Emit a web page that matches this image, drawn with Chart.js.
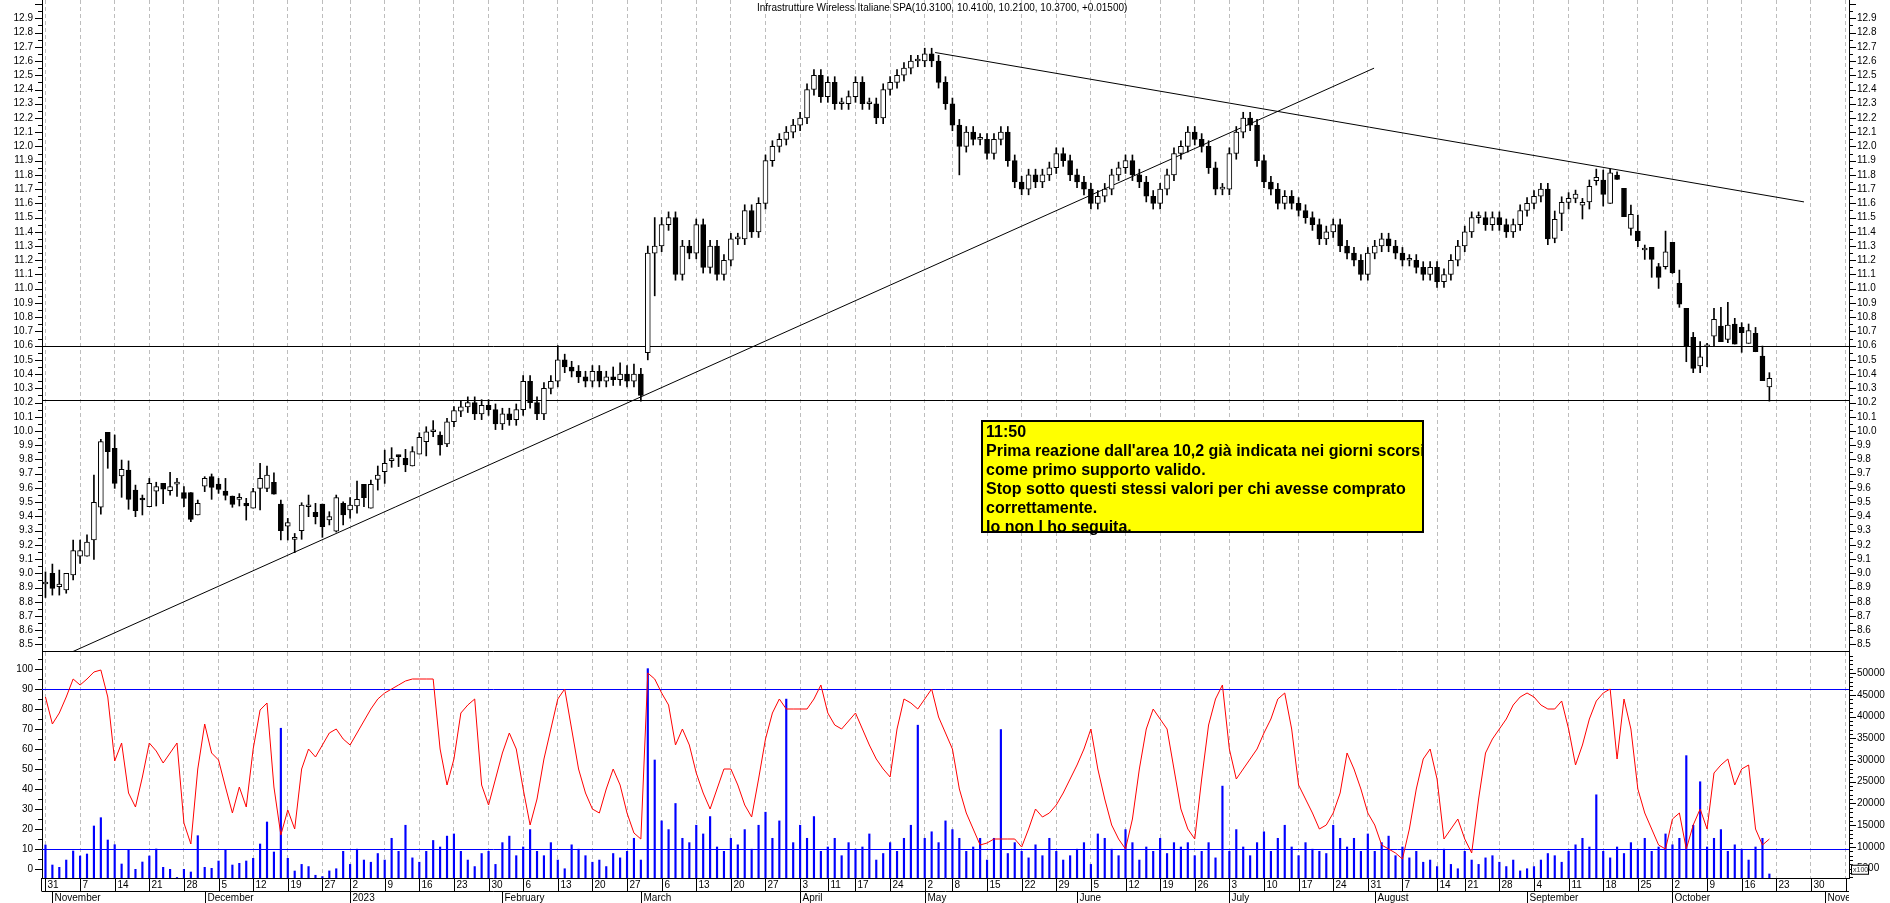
<!DOCTYPE html>
<html>
<head>
<meta charset="utf-8">
<title>Infrastrutture Wireless Italiane SPA</title>
<script src="https://cdn.jsdelivr.net/npm/chart.js@4.4.1/dist/chart.umd.min.js"></script>
<style>
  body { margin: 0; background: #fff; }
  #page { position: relative; width: 1890px; height: 903px; overflow: hidden; font-family: 'Liberation Sans', Arial, sans-serif; }
  canvas { position: absolute; left: 0; }
  #topChart { top: 0; }
  #botChart { top: 652px; }
  #title { position: absolute; top: 2px; left: 757px; font-size: 10px; white-space: nowrap; color: #000; }
  #note { position: absolute; left: 981px; top: 420px; width: 436px; height: 109px; padding-left: 3px;
          border: 2px solid #000; background: #ffff00; font-weight: bold; font-size: 16px; line-height: 19px; white-space: nowrap; }
</style>
</head>
<body>
<div id="page">
  <canvas id="topChart" width="1890" height="652"></canvas>
  <canvas id="botChart" width="1890" height="251"></canvas>
  <div id="title">Infrastrutture Wireless Italiane SPA(10.3100, 10.4100, 10.2100, 10.3700, +0.01500)</div>
  <div id="note">11:50<br>Prima reazione dall'area 10,2 già indicata nei giorni scorsi<br>come primo supporto valido.<br>Stop sotto questi stessi valori per chi avesse comprato<br>correttamente.<br>Io non l ho seguita.</div>
</div>
<script>
// trading calendar (Borsa Italiana), axis runs one week past the last candle
const firstDay = '2022-10-31';
const lastDay = '2023-11-06';
const holidays = ['2022-12-26', '2023-04-07', '2023-04-10', '2023-05-01', '2023-08-15'];
const monthNames = ['January', 'February', 'March', 'April', 'May', 'June', 'July',
  'August', 'September', 'October', 'November', 'December'];

const priceTicks = [8.5, 8.6, 8.7, 8.8, 8.9, 9.0, 9.1, 9.2, 9.3, 9.4, 9.5, 9.6, 9.7, 9.8, 9.9,
  10.0, 10.1, 10.2, 10.3, 10.4, 10.5, 10.6, 10.7, 10.8, 10.9, 11.0, 11.1, 11.2, 11.3, 11.4, 11.5,
  11.6, 11.7, 11.8, 11.9, 12.0, 12.1, 12.2, 12.3, 12.4, 12.5, 12.6, 12.7, 12.8, 12.9];
const oscTicks = [0, 10, 20, 30, 40, 50, 60, 70, 80, 90, 100];
const volTicks = [5000, 10000, 15000, 20000, 25000, 30000, 35000, 40000, 45000, 50000];

// daily candles, 31 Oct 2022 .. 20 Oct 2023
const open = [
  8.925, 9.00, 8.906, 8.883, 8.988, 9.12, 9.12, 9.234, 9.464, 9.99,
  9.878, 9.684, 9.726, 9.585, 9.52, 9.468, 9.578, 9.632, 9.58, 9.627,
  9.567, 9.567, 9.41, 9.613, 9.679, 9.627, 9.578, 9.543, 9.52, 9.492,
  9.457, 9.597, 9.597, 9.64, 9.487, 9.332, 9.239, 9.30, 9.468, 9.429,
  9.487, 9.375, 9.297, 9.492, 9.445, 9.473, 9.625, 9.457, 9.66, 9.714,
  9.792, 9.83, 9.808, 9.754, 9.838, 9.925, 9.995, 9.972, 9.909, 10.065,
  10.14, 10.17, 10.20, 10.12, 10.18, 10.15, 10.05, 10.12, 10.08, 10.15,
  10.35, 10.20, 10.12, 10.30, 10.35, 10.50, 10.45, 10.42, 10.38, 10.35,
  10.42, 10.35, 10.38, 10.36, 10.40, 10.35, 10.40, 10.55, 11.25, 11.30,
  11.45, 11.50, 11.10, 11.30, 11.25, 11.45, 11.15, 11.30, 11.10, 11.20,
  11.35, 11.35, 11.55, 11.40, 11.60, 11.90, 12.00, 12.05, 12.10, 12.15,
  12.20, 12.40, 12.50, 12.35, 12.45, 12.30, 12.30, 12.35, 12.45, 12.30,
  12.30, 12.20, 12.40, 12.45, 12.50, 12.55, 12.60, 12.60, 12.65, 12.60,
  12.45, 12.30, 12.15, 12.00, 12.10, 12.05, 12.05, 11.95, 12.05, 12.10,
  11.90, 11.75, 11.70, 11.80, 11.75, 11.80, 11.85, 11.95, 11.90, 11.80,
  11.75, 11.70, 11.60, 11.65, 11.70, 11.80, 11.85, 11.90, 11.80, 11.75,
  11.65, 11.60, 11.70, 11.80, 11.95, 12.00, 12.10, 12.05, 12.00, 11.85,
  11.70, 11.70, 11.95, 12.10, 12.20, 12.15, 11.90, 11.75, 11.70, 11.60,
  11.65, 11.60, 11.55, 11.50, 11.45, 11.35, 11.40, 11.45, 11.30, 11.25,
  11.20, 11.10, 11.25, 11.30, 11.35, 11.30, 11.25, 11.20, 11.20, 11.15,
  11.10, 11.15, 11.05, 11.10, 11.20, 11.30, 11.40, 11.50, 11.50, 11.45,
  11.50, 11.45, 11.40, 11.45, 11.55, 11.60, 11.65, 11.70, 11.354, 11.529,
  11.607, 11.635, 11.588, 11.61, 11.76, 11.764, 11.60, 11.799, 11.705, 11.424,
  11.405, 11.272, 11.29, 11.155, 11.155, 11.326, 11.038, 10.862, 10.658, 10.457,
  10.592, 10.667, 10.738, 10.644, 10.752, 10.728, 10.616, 10.686, 10.527, 10.31
];
const high = [
  9.01, 9.065, 9.023, 9.00, 9.234, 9.234, 9.27, 9.691, 9.941, 9.99,
  9.972, 9.796, 9.79, 9.62, 9.55, 9.667, 9.64, 9.632, 9.71, 9.667,
  9.609, 9.567, 9.515, 9.679, 9.698, 9.667, 9.667, 9.543, 9.56, 9.527,
  9.597, 9.773, 9.754, 9.707, 9.515, 9.386, 9.28, 9.496, 9.55, 9.492,
  9.487, 9.433, 9.55, 9.503, 9.532, 9.649, 9.625, 9.656, 9.754, 9.866,
  9.883, 9.83, 9.871, 9.89, 9.988, 10.03, 10.073, 9.995, 10.09, 10.171,
  10.21, 10.24, 10.24, 10.22, 10.22, 10.19, 10.16, 10.16, 10.19, 10.39,
  10.39, 10.24, 10.34, 10.39, 10.60, 10.54, 10.49, 10.46, 10.42, 10.46,
  10.46, 10.42, 10.45, 10.48, 10.46, 10.47, 10.44, 11.30, 11.50, 11.50,
  11.54, 11.54, 11.34, 11.34, 11.49, 11.49, 11.34, 11.34, 11.24, 11.39,
  11.39, 11.59, 11.59, 11.64, 11.94, 12.04, 12.09, 12.14, 12.19, 12.24,
  12.44, 12.54, 12.54, 12.49, 12.49, 12.34, 12.39, 12.49, 12.49, 12.34,
  12.34, 12.44, 12.49, 12.54, 12.59, 12.64, 12.64, 12.69, 12.69, 12.64,
  12.49, 12.34, 12.19, 12.14, 12.14, 12.09, 12.09, 12.09, 12.14, 12.14,
  11.94, 11.79, 11.84, 11.84, 11.84, 11.89, 11.99, 11.99, 11.94, 11.84,
  11.79, 11.74, 11.69, 11.74, 11.84, 11.89, 11.94, 11.94, 11.84, 11.79,
  11.69, 11.74, 11.84, 11.99, 12.04, 12.14, 12.14, 12.09, 12.04, 11.89,
  11.74, 11.99, 12.14, 12.24, 12.24, 12.19, 11.94, 11.79, 11.74, 11.69,
  11.69, 11.64, 11.59, 11.54, 11.49, 11.44, 11.49, 11.49, 11.34, 11.29,
  11.24, 11.29, 11.34, 11.39, 11.39, 11.34, 11.29, 11.24, 11.24, 11.19,
  11.19, 11.19, 11.14, 11.24, 11.34, 11.44, 11.54, 11.54, 11.54, 11.54,
  11.54, 11.49, 11.49, 11.59, 11.64, 11.69, 11.74, 11.74, 11.546, 11.646,
  11.675, 11.693, 11.635, 11.764, 11.841, 11.834, 11.841, 11.822, 11.705, 11.588,
  11.518, 11.307, 11.29, 11.178, 11.405, 11.326, 11.131, 10.862, 10.693, 10.628,
  10.616, 10.862, 10.869, 10.904, 10.792, 10.761, 10.752, 10.728, 10.597, 10.41
];
const low = [
  8.83, 8.847, 8.847, 8.86, 8.953, 9.07, 9.12, 9.098, 9.415, 9.738,
  9.597, 9.534, 9.45, 9.398, 9.41, 9.468, 9.473, 9.49, 9.55, 9.54,
  9.468, 9.363, 9.41, 9.574, 9.52, 9.562, 9.515, 9.464, 9.473, 9.374,
  9.457, 9.445, 9.574, 9.557, 9.234, 9.234, 9.145, 9.239, 9.398, 9.347,
  9.253, 9.34, 9.29, 9.34, 9.387, 9.422, 9.468, 9.457, 9.585, 9.632,
  9.745, 9.75, 9.714, 9.754, 9.838, 9.825, 9.96, 9.831, 9.89, 10.03,
  10.10, 10.13, 10.08, 10.08, 10.11, 10.01, 10.01, 10.04, 10.04, 10.11,
  10.16, 10.08, 10.08, 10.26, 10.31, 10.41, 10.38, 10.34, 10.31, 10.31,
  10.31, 10.31, 10.32, 10.32, 10.31, 10.31, 10.21, 10.50, 10.95, 11.26,
  11.41, 11.06, 11.06, 11.21, 11.21, 11.11, 11.11, 11.06, 11.06, 11.16,
  11.31, 11.31, 11.36, 11.36, 11.56, 11.86, 11.96, 12.01, 12.06, 12.11,
  12.16, 12.36, 12.31, 12.31, 12.26, 12.26, 12.26, 12.31, 12.26, 12.26,
  12.16, 12.16, 12.36, 12.41, 12.46, 12.51, 12.56, 12.56, 12.56, 12.41,
  12.26, 12.11, 11.80, 11.96, 12.01, 12.01, 11.91, 11.91, 12.01, 11.86,
  11.71, 11.66, 11.66, 11.71, 11.71, 11.76, 11.81, 11.86, 11.76, 11.71,
  11.66, 11.56, 11.56, 11.61, 11.66, 11.76, 11.81, 11.76, 11.71, 11.61,
  11.56, 11.56, 11.66, 11.76, 11.91, 11.96, 12.01, 11.96, 11.81, 11.66,
  11.66, 11.66, 11.91, 12.06, 12.11, 11.86, 11.71, 11.66, 11.56, 11.56,
  11.56, 11.51, 11.46, 11.41, 11.31, 11.31, 11.36, 11.26, 11.21, 11.16,
  11.06, 11.06, 11.21, 11.26, 11.26, 11.21, 11.16, 11.16, 11.11, 11.06,
  11.06, 11.01, 11.01, 11.06, 11.16, 11.26, 11.36, 11.46, 11.41, 11.41,
  11.41, 11.36, 11.36, 11.41, 11.51, 11.56, 11.61, 11.31, 11.323, 11.408,
  11.56, 11.604, 11.49, 11.56, 11.728, 11.581, 11.60, 11.768, 11.506, 11.377,
  11.295, 11.206, 11.08, 11.002, 11.138, 11.108, 10.869, 10.487, 10.41, 10.41,
  10.452, 10.592, 10.628, 10.62, 10.611, 10.553, 10.616, 10.557, 10.354, 10.21
];
const close = [
  8.93, 8.894, 8.925, 9.00, 9.159, 9.159, 9.22, 9.499, 9.925, 9.855,
  9.632, 9.731, 9.52, 9.44, 9.515, 9.632, 9.609, 9.592, 9.609, 9.627,
  9.527, 9.379, 9.492, 9.667, 9.604, 9.59, 9.548, 9.485, 9.522, 9.473,
  9.574, 9.667, 9.691, 9.557, 9.30, 9.356, 9.239, 9.48, 9.468, 9.398,
  9.328, 9.398, 9.532, 9.41, 9.48, 9.52, 9.532, 9.625, 9.69, 9.773,
  9.792, 9.82, 9.761, 9.855, 9.955, 9.995, 9.995, 9.902, 10.065, 10.143,
  10.17, 10.20, 10.12, 10.18, 10.15, 10.05, 10.12, 10.08, 10.15, 10.35,
  10.20, 10.12, 10.30, 10.35, 10.50, 10.45, 10.42, 10.38, 10.35, 10.42,
  10.35, 10.38, 10.36, 10.40, 10.35, 10.40, 10.25, 11.25, 11.30, 11.45,
  11.50, 11.10, 11.30, 11.25, 11.45, 11.15, 11.30, 11.10, 11.20, 11.35,
  11.35, 11.55, 11.40, 11.60, 11.90, 12.00, 12.05, 12.10, 12.15, 12.20,
  12.40, 12.50, 12.35, 12.45, 12.30, 12.30, 12.35, 12.45, 12.30, 12.30,
  12.20, 12.40, 12.45, 12.50, 12.55, 12.60, 12.60, 12.65, 12.60, 12.45,
  12.30, 12.15, 12.00, 12.10, 12.05, 12.05, 11.95, 12.05, 12.10, 11.90,
  11.75, 11.70, 11.80, 11.75, 11.80, 11.85, 11.95, 11.90, 11.80, 11.75,
  11.70, 11.60, 11.65, 11.70, 11.80, 11.85, 11.90, 11.80, 11.75, 11.65,
  11.60, 11.70, 11.80, 11.95, 12.00, 12.10, 12.05, 12.00, 11.85, 11.70,
  11.70, 11.95, 12.10, 12.20, 12.15, 11.90, 11.75, 11.70, 11.60, 11.65,
  11.60, 11.55, 11.50, 11.45, 11.35, 11.40, 11.45, 11.30, 11.25, 11.20,
  11.10, 11.25, 11.30, 11.35, 11.30, 11.25, 11.20, 11.20, 11.15, 11.10,
  11.15, 11.05, 11.10, 11.20, 11.30, 11.40, 11.50, 11.50, 11.45, 11.50,
  11.45, 11.40, 11.45, 11.55, 11.60, 11.65, 11.70, 11.35, 11.487, 11.607,
  11.635, 11.665, 11.607, 11.72, 11.782, 11.663, 11.815, 11.768, 11.506, 11.522,
  11.337, 11.272, 11.206, 11.08, 11.26, 11.112, 10.892, 10.592, 10.44, 10.522,
  10.592, 10.785, 10.628, 10.745, 10.611, 10.691, 10.705, 10.557, 10.354, 10.37
];
// lower panel: oscillator (left scale) and volume in hundreds (right scale)
const stoch = [
  86, 72.5, 78, 86, 95, 92, 95, 98.5, 99.5, 86,
  54, 63, 38, 31, 46, 63, 59, 53, 58, 63,
  23, 12.5, 50, 72.5, 58, 54.5, 41, 28, 41, 31,
  60, 79.5, 83, 41, 17, 29.5, 20, 50, 60, 56,
  62, 68, 70, 65, 62, 68, 74, 80, 85, 88,
  90, 92, 94, 95, 95, 95, 95, 60, 42, 55,
  78, 82, 85, 42, 32, 45, 58, 68, 60, 40,
  22, 35, 55, 70, 85, 90, 70, 50, 38, 30,
  28, 40, 50, 42, 28, 18, 15, 98, 95, 88,
  82, 62, 70, 62, 48, 38, 30, 40, 50, 50,
  42, 32, 26, 45, 65, 78, 85, 80, 80, 80,
  80, 85, 92, 78, 72, 70, 74, 78, 70, 62,
  55, 50, 46, 70, 85, 83, 80, 85, 90, 76,
  68, 60, 40, 28, 20, 12, 13, 15, 15, 15,
  15, 11, 20, 30, 26, 28, 32, 38, 45, 52,
  60, 70, 50, 35, 22, 15, 10, 25, 50, 70,
  80, 75, 70, 50, 30, 20, 15, 45, 72, 85,
  92, 60, 45, 50, 55, 60, 68, 75, 85, 88,
  70, 42, 35, 28, 20, 22, 28, 38, 58, 50,
  40, 28, 22, 12, 10, 8, 5, 20, 40, 55,
  60, 45, 15, 20, 25, 15, 8, 35, 58, 65,
  70, 75, 82, 86, 88, 86, 82, 80, 80, 84,
  70, 52, 62, 75, 84, 88, 90, 55, 85, 70,
  40, 28, 20, 12, 10, 25, 28, 10, 22, 30,
  20, 48, 52, 55, 42, 50, 52, 20, 12, 15
];
const volume = [
  10460, 5860, 5330, 7000, 9080, 7930, 8390, 14830, 16740, 11610,
  10530, 6090, 9310, 4870, 6550, 7930, 9540, 5330, 4870, 3000,
  4870, 4250, 12600, 5330, 5100, 6780, 9310, 5860, 6250, 6780,
  7400, 10690, 15750, 8850, 37300, 7400, 4480, 6000, 5500, 3500,
  3200, 4500, 5000, 9000, 6000, 9500, 7000, 6500, 8500, 7000,
  12000, 9000, 15000, 7500, 6500, 9000, 11500, 10000, 12500, 13000,
  9000, 7000, 5500, 8500, 9000, 6000, 11000, 12500, 8000, 10000,
  14000, 9000, 8000, 11000, 7000, 5000, 10500, 9500, 8000, 6500,
  7000, 5500, 8500, 7500, 9000, 12000, 7000, 51000, 30000, 16000,
  14000, 20000, 12000, 11000, 15000, 13000, 17000, 10000, 9000, 12000,
  10500, 14000, 9500, 15000, 18000, 12000, 16000, 44000, 11000, 15000,
  12000, 17000, 9000, 10000, 12000, 8000, 11000, 9500, 10000, 13000,
  7000, 8500, 11000, 9000, 12000, 15000, 38000, 12000, 13500, 11000,
  16000, 14000, 12000, 9000, 10000, 12000, 7000, 12000, 37000, 8500,
  11000, 9000, 7500, 10500, 8000, 12000, 9000, 7000, 8000, 9500,
  11000, 6000, 13000, 12000, 9500, 8000, 14000, 11000, 7000, 10000,
  9000, 12000, 8500, 11000, 10000, 11000, 8000, 9000, 11000, 7500,
  24000, 9000, 14000, 10000, 8000, 11000, 13500, 9000, 12000, 15000,
  10000, 8000, 11000, 9500, 9000, 8500, 15000, 12000, 10000, 12000,
  9000, 13000, 9000, 11000, 12500, 8000, 10000, 7500, 9000, 6500,
  7000, 5500, 9500, 6000, 5000, 9000, 7000, 6000, 7500, 8000,
  6500, 5500, 7000, 4500, 5000, 5500, 7000, 8500, 8000, 6500,
  9000, 10500, 12000, 10000, 22000, 9000, 7500, 10000, 8500, 11000,
  9500, 12000, 9000, 10000, 13000, 10500, 12000, 31000, 15000, 25000,
  10000, 12000, 14000, 9000, 10500, 9500, 7000, 10000, 12000, 3800
];
// drawn levels and trend lines: [startIndex, startPrice, endIndex, endPrice]
const levels = [10.6, 10.22];
const trendLines = [[3.5, 8.44, 191.9, 12.55], [128.5, 12.66, 254, 11.61]];
const oscLevels = [90, 10];

// category labels
const days = [];
for (let t = Date.parse(firstDay); t <= Date.parse(lastDay); t += 864e5) {
  const d = new Date(t);
  const iso = d.toISOString().slice(0, 10);
  if (d.getUTCDay() > 0 && d.getUTCDay() < 6 && !holidays.includes(iso)) days.push(iso);
}
const dt = days.map(s => new Date(s));
const weekStart = dt.map((d, i) => i === 0 || d.getUTCDay() <= dt[i - 1].getUTCDay());
const monthStart = dt.map((d, i) => i > 0 && d.getUTCMonth() !== dt[i - 1].getUTCMonth());

Chart.defaults.font.family = "'Liberation Sans', Arial, sans-serif";
Chart.defaults.font.size = 10;
Chart.defaults.color = '#000';

const FONT = "10px 'Liberation Sans', Arial, sans-serif";

function xAxis() {
  return {
    type: 'category', offset: true,
    ticks: { display: false, autoSkip: false },
    grid: { offset: false, drawTicks: false, lineWidth: 1,
      color: c => weekStart[c.index] ? '#bdbdbd' : 'rgba(0,0,0,0)' },
    border: { display: false, dash: [4, 3] },
    afterFit: s => { s.height = 0; s.paddingLeft = 0; s.paddingRight = 0; }
  };
}
function yAxis(pos, min, max, ticks, fmt) {
  return {
    type: 'linear', position: pos, min: min, max: max,
    afterBuildTicks: s => { s.ticks = ticks.map(v => ({ value: v })); },
    ticks: { autoSkip: false, padding: pos === 'left' ? 9 : 8, callback: fmt },
    grid: { drawOnChartArea: false, drawTicks: false },
    border: { display: true, color: '#000' },
    afterFit: s => { s.width = pos === 'left' ? 42 : 41; s.paddingTop = 0; s.paddingBottom = 0; }
  };
}
// minor and major tick marks on the value axes
function tickMarks(chart, id, minor, major, side) {
  const s = chart.scales[id], ctx = chart.ctx;
  const x0 = side === 'left' ? s.right : s.left;
  const dir = side === 'left' ? -1 : 1;
  ctx.save();
  ctx.strokeStyle = '#000';
  ctx.lineWidth = 1;
  ctx.beginPath();
  for (let n = Math.ceil(s.min / minor - 1e-9); n <= Math.floor(s.max / minor + 1e-9); n++) {
    const v = n * minor;
    const big = Math.abs(v / major - Math.round(v / major)) < 1e-6;
    const py = Math.round(s.getPixelForValue(v)) + 0.5;
    ctx.moveTo(x0, py);
    ctx.lineTo(x0 + dir * (big ? 7 : 4), py);
  }
  ctx.stroke();
  ctx.restore();
}

const topDeco = {
  id: 'topDeco',
  beforeDatasetsDraw(chart) {
    const { ctx, chartArea: a, scales: { x, y } } = chart;
    ctx.save();
    ctx.beginPath();
    ctx.rect(a.left, a.top, a.right - a.left, a.bottom - a.top);
    ctx.clip();
    ctx.strokeStyle = '#000';
    ctx.lineWidth = 1;
    ctx.beginPath();
    levels.forEach(v => {
      const py = Math.round(y.getPixelForValue(v)) + 0.5;
      ctx.moveTo(a.left, py); ctx.lineTo(a.right, py);
    });
    trendLines.forEach(t => {
      ctx.moveTo(x.getPixelForValue(t[0]), y.getPixelForValue(t[1]));
      ctx.lineTo(x.getPixelForValue(t[2]), y.getPixelForValue(t[3]));
    });
    ctx.stroke();
    ctx.restore();
  },
  afterDraw(chart) {
    const { ctx, chartArea: a } = chart;
    ctx.save();
    ctx.strokeStyle = '#000';
    ctx.beginPath();
    ctx.moveTo(a.left, a.bottom - 0.5); ctx.lineTo(a.right, a.bottom - 0.5);
    ctx.stroke();
    ctx.restore();
    tickMarks(chart, 'y', 0.05, 0.1, 'left');
    tickMarks(chart, 'y2', 0.05, 0.1, 'right');
  }
};

const botDeco = {
  id: 'botDeco',
  beforeDatasetsDraw(chart) {
    const { ctx, chartArea: a, scales: { yo } } = chart;
    ctx.save();
    ctx.strokeStyle = '#0000ff';
    ctx.lineWidth = 1;
    ctx.beginPath();
    oscLevels.forEach(v => {
      const py = Math.round(yo.getPixelForValue(v)) + 0.5;
      ctx.moveTo(a.left, py); ctx.lineTo(a.right, py);
    });
    ctx.stroke();
    ctx.restore();
  },
  afterDraw(chart) {
    const { ctx, chartArea: a, scales: { x, yv } } = chart;
    tickMarks(chart, 'yo', 5, 10, 'left');
    tickMarks(chart, 'yv', 1000, 5000, 'right');
    const y0 = a.bottom + 0.5, y1 = a.bottom + 13.5, y2 = chart.height;
    ctx.save();
    ctx.strokeStyle = '#000';
    ctx.lineWidth = 1;
    ctx.beginPath();
    ctx.moveTo(a.left, y0); ctx.lineTo(a.right, y0);
    ctx.moveTo(a.left, y1); ctx.lineTo(a.right, y1);
    ctx.moveTo(a.left - 0.5, a.bottom); ctx.lineTo(a.left - 0.5, y1);
    ctx.stroke();
    ctx.beginPath();
    ctx.rect(a.left, a.bottom, a.right - a.left, y2 - a.bottom);
    ctx.clip();
    ctx.font = FONT;
    ctx.fillStyle = '#000';
    ctx.textBaseline = 'middle';
    ctx.beginPath();
    days.forEach((d, i) => {
      const px = Math.round(x.getPixelForValue(i)) + 0.5;
      if (weekStart[i]) {
        ctx.moveTo(px, y0); ctx.lineTo(px, y1);
        ctx.fillText(String(dt[i].getUTCDate()), px + 2, y0 + 6.5);
      }
      if (monthStart[i]) {
        const m = dt[i].getUTCMonth();
        ctx.moveTo(px, y1); ctx.lineTo(px, y2);
        ctx.fillText(m === 0 ? String(dt[i].getUTCFullYear()) : monthNames[m], px + 2, y1 + 6.5);
      }
    });
    ctx.stroke();
    ctx.restore();
    // "x100" multiplier box over the lowest volume label
    const py = yv.getPixelForValue(5000);
    ctx.save();
    ctx.fillStyle = '#fff';
    ctx.strokeStyle = '#000';
    ctx.fillRect(yv.left + 2, py - 4, 17, 9);
    ctx.strokeRect(yv.left + 2.5, py - 3.5, 17, 9);
    ctx.font = "7px 'Liberation Sans', Arial, sans-serif";
    ctx.fillStyle = '#333';
    ctx.textBaseline = 'middle';
    ctx.fillText('x100', yv.left + 4, py + 1);
    ctx.restore();
  }
};

const bodyData = open.map((o, i) => [Math.min(o, close[i]), Math.max(o, close[i])]);
const wickData = low.map((l, i) => [l, high[i]]);
const bodyColors = open.map((o, i) => close[i] >= o ? '#ffffff' : '#000000');

new Chart(document.getElementById('topChart'), {
  type: 'bar',
  data: {
    labels: days,
    datasets: [
      { data: wickData, backgroundColor: '#000', barThickness: 1, grouped: false, order: 2, yAxisID: 'y' },
      { data: bodyData, backgroundColor: bodyColors, borderColor: '#000', borderWidth: 1,
        borderSkipped: false, barThickness: 5, minBarLength: 2, grouped: false, order: 1, yAxisID: 'y' }
    ]
  },
  options: {
    responsive: false, animation: false,
    layout: { padding: 0 },
    plugins: { legend: { display: false }, tooltip: { enabled: false } },
    scales: {
      x: xAxis(),
      y: yAxis('left', 8.447, 13.029, priceTicks, v => v.toFixed(1)),
      y2: yAxis('right', 8.447, 13.029, priceTicks, v => v.toFixed(1))
    }
  },
  plugins: [topDeco]
});

new Chart(document.getElementById('botChart'), {
  type: 'bar',
  data: {
    labels: days,
    datasets: [
      { type: 'line', data: stoch, borderColor: '#ff0000', borderWidth: 1, pointRadius: 0,
        tension: 0, yAxisID: 'yo', order: 1 },
      { data: volume, backgroundColor: '#0000ff', barThickness: 1.5, yAxisID: 'yv', order: 2 }
    ]
  },
  options: {
    responsive: false, animation: false,
    layout: { padding: { top: 0, left: 0, right: 0, bottom: 25 } },
    plugins: { legend: { display: false }, tooltip: { enabled: false } },
    scales: {
      x: xAxis(),
      yo: yAxis('left', -4.5, 108.5, oscTicks, v => String(v)),
      yv: yAxis('right', 2873, 54828, volTicks, v => String(v))
    }
  },
  plugins: [botDeco]
});
</script>
</body>
</html>
